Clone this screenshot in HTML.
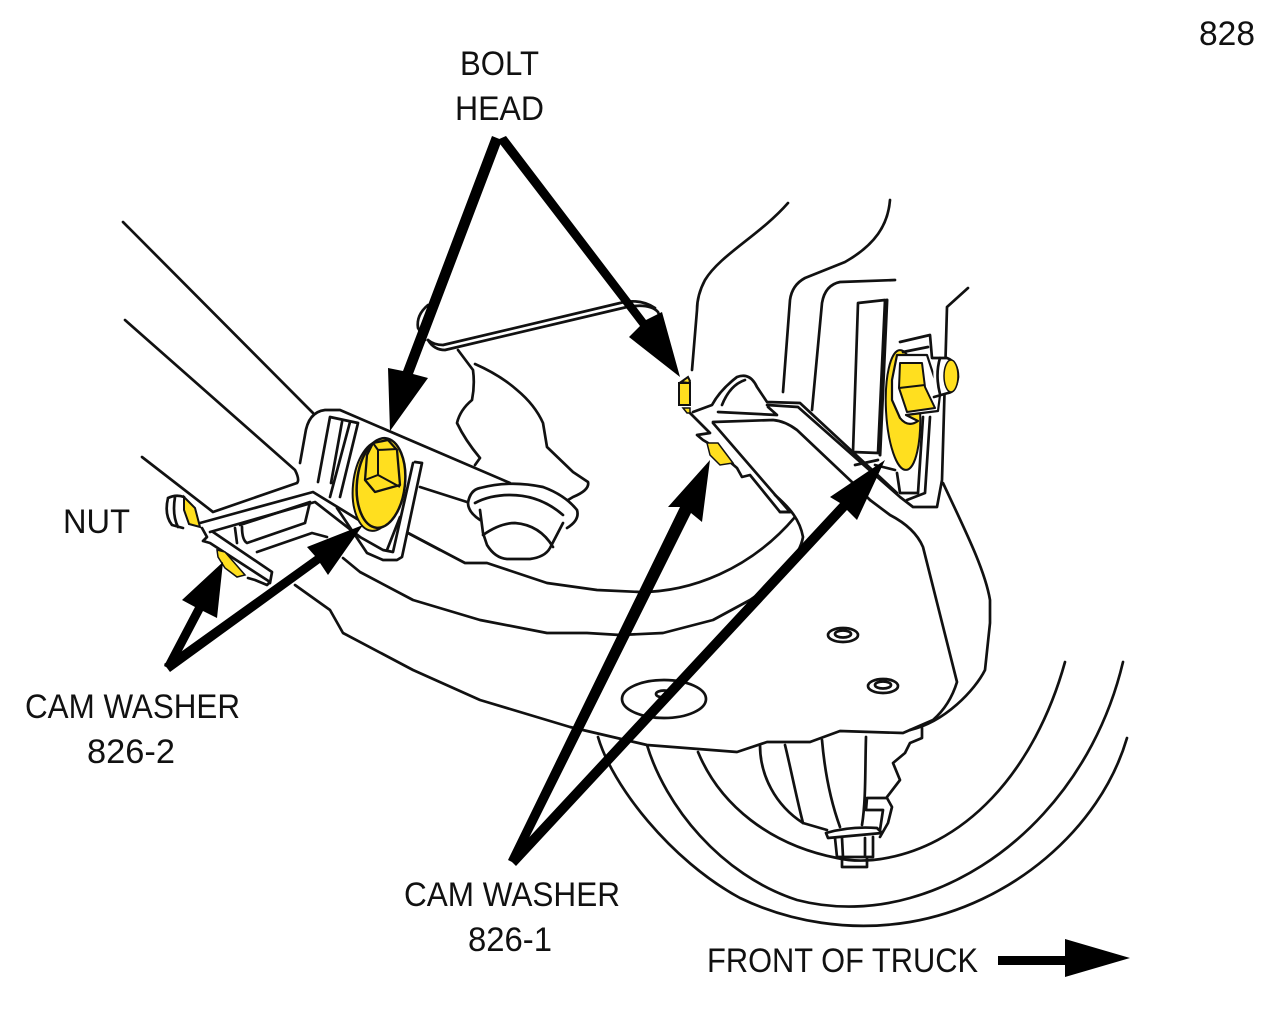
<!DOCTYPE html>
<html><head><meta charset="utf-8"><style>
html,body{margin:0;padding:0;background:#fff}
svg{display:block}
.l{fill:none;stroke:#111;stroke-width:2.7;stroke-linecap:round;stroke-linejoin:round}
.t{font-family:"Liberation Sans",sans-serif;font-size:34px;fill:#111}
.a{fill:#000;stroke:none}
</style></head><body>
<svg width="1275" height="1025" viewBox="0 0 1275 1025" xmlns="http://www.w3.org/2000/svg">
<rect width="1275" height="1025" fill="#fff"/>
<!-- tires -->
<g class="l">
<path d="M598,737C612,785 670,860 740,898C790,922 850,932 910,922C1010,905 1100,830 1127,738"/>
<path d="M647,745C665,805 720,875 797,900C835,910 875,908 910,898C1010,870 1095,780 1123,662"/>
<path d="M698,752C720,805 770,845 837,858C850,861 862,861 873,860C965,850 1035,770 1065,662"/>
<!-- hub -->
<path d="M760,745C760,775 775,805 803,823L827,830"/>
<path d="M785,745C790,765 797,800 803,823"/>
<path d="M822,740C825,775 832,805 840,827"/>
<path d="M866,737C865,770 866,800 862,825"/>
<path d="M922,728L922,738L910,743L905,753L893,763L900,780L887,797"/>
<path d="M867,798H887L892,807L888,823L880,837M867,798L866,810H883L880,830"/>
<path d="M826,833Q850,826 877,828L882,833L828,838Z"/>
<path d="M835,838L837,857H873L873,837M842,838L843,857M865,838L865,857M842,858L842,867H867L867,858"/>
</g>
<!-- main control arm body -->
<path d="M295,585L330,610L343,633L413,670L480,700L570,727L647,745L737,752L767,742L810,742L840,731L903,733L933,720Q950,705 957,682L923,547Q915,528 890,515L870,500L800,420L780,405L700,420L300,480Z" fill="#fff"/>
<g class="l">
<path d="M295,585L330,610L343,633L413,670L480,700L570,727L647,745L737,752L767,742L810,742L840,731L903,733L933,720Q950,705 957,682L923,547Q915,528 890,515L870,500"/>
<path d="M943,483C965,530 985,570 990,600L990,623L985,670C975,690 945,722 910,730"/>
<path d="M343,558L360,572L413,600L480,620L547,633L587,633L620,635L663,633L713,620L750,600C780,580 800,555 803,537C800,520 790,508 775,495"/>
<path d="M408,533L465,563L487,563L547,583L597,590L640,592C690,592 750,570 795,517"/>
<path d="M780,512H790"/>
<!-- holes -->
<ellipse cx="843" cy="635" rx="15" ry="7"/><ellipse cx="843" cy="634" rx="8" ry="3.5"/>
<ellipse cx="883" cy="686" rx="15" ry="7"/><ellipse cx="883" cy="685" rx="8" ry="3.5"/>
<ellipse cx="664" cy="699" rx="42" ry="19"/><ellipse cx="664" cy="694" rx="8" ry="3.5"/>
<!-- upper long lines -->
<path d="M123,222L313,413"/>
<path d="M125,320L295,470Q300,480 297,483L213,512L142,457"/>
<path d="M300,463L305,435Q308,412 325,410L340,410L510,483"/>
<path d="M420,487L467,502"/>
<path d="M440,550L408,533"/>
<!-- rod -->
<path d="M428,340Q434,350 445,350L627,307Q650,303 658,312Q662,320 655,325"/>
<path d="M428,340Q434,345 443,345L620,303Q640,298 655,308"/>
<path d="M428,305Q416,315 418,328L425,340"/>
<!-- central shape -->
<path d="M458,350L473,370Q475,385 472,400Q460,410 457,423Q465,440 480,458L475,465"/>
<path d="M475,364Q500,375 517,390Q535,405 543,423L547,447L573,472L588,482Q590,490 573,497L568,500"/>
<!-- boot -->
<path d="M468,503Q470,490 480,488Q510,480 543,487Q565,495 577,510Q580,520 567,528M468,503Q468,512 480,520"/>
<path d="M475,503Q490,495 510,495Q540,495 563,515"/>
<path d="M480,510L483,533L487,545Q495,558 507,559H530Q545,557 550,548L563,523"/>
<path d="M483,535Q500,523 515,523Q540,525 553,547"/>
<!-- left bracket -->
<path d="M330,417L318,482M342,422L331,483M358,423L340,497M350,422L330,497M330,417L358,423"/>
<path d="M200,523L313,492L362,522"/>
<path d="M210,532L315,502L360,537"/>
<path d="M240,525L310,502L305,523L247,543Q242,540 242,527"/>
<path d="M257,552L312,533L327,537"/>
<path d="M337,508L367,553L383,560L397,560L402,557L422,463L415,462"/>
<path d="M413,463L393,552L383,550L360,537"/>
<path d="M400,517L387,550"/>
<path d="M202,528L207,537L203,541L210,543L270,582L267,585L255,580L248,578"/>
<path d="M213,532L272,572L270,583M235,528L237,543"/>
<path d="M168,498Q164,515 172,525L183,528M175,497Q172,515 178,527M168,498Q176,494 184,497"/>
</g>
<!-- left nut -->
<path d="M184,497L195,508L200,527L189,524L184,510Z" fill="#ffdf1f" stroke="#111" stroke-width="2"/>
<!-- left washer -->
<ellipse cx="376" cy="486" rx="23" ry="45" transform="rotate(6 376 486)" fill="#ffdf1f" stroke="#111" stroke-width="2"/>
<ellipse cx="381" cy="483" rx="24" ry="45" transform="rotate(6 381 483)" fill="#ffdf1f" stroke="#111" stroke-width="2.5"/>
<path d="M365,480L367,455L373,443L388,440L397,450L400,485L375,492Z" fill="#ffdf1f" stroke="#111" stroke-width="2.3" stroke-linejoin="round"/>
<path d="M365,480L378,475L400,487M378,475V450L397,449M373,443L378,450M375,492L365,480" fill="none" stroke="#111" stroke-width="2"/>
<path d="M217,550L225,552L245,575L237,577L225,568L218,557Z" fill="#ffdf1f" stroke="#111" stroke-width="1.5"/>
<!-- right assembly -->
<g class="l">
<path d="M788,203C760,235 720,255 705,280Q697,295 697,310L692,370"/>
<path d="M890,200C888,225 875,245 845,262L805,278Q792,285 790,300L783,392"/>
<path d="M812,410L822,303Q825,285 840,282L895,280"/>
<path d="M968,288L947,307L942,480L937,507L913,507L900,497L798,407L767,405"/>
<path d="M693,412L712,405Q720,390 737,377Q750,372 757,387L767,402L800,403L897,493"/>
<path d="M718,412L777,415L768,407M722,405Q730,385 745,380"/>
<path d="M713,422L773,420Q785,421 797,430L853,483L870,500"/>
<path d="M690,413L710,433L697,435L703,440L708,443L737,468L742,477L750,475L780,512H790L713,423"/>
<path d="M858,303L885,300L878,453L853,452Z"/>
<path d="M887,300L880,455" stroke-width="3"/>
<path d="M855,465L878,460M875,465L895,470"/>
<path d="M923,417L918,493H900L897,473M930,417L925,493L907,500"/>
</g>
<ellipse cx="903" cy="410" rx="17" ry="60" transform="rotate(-3 903 410)" fill="#ffdf1f" stroke="#111" stroke-width="2"/>
<path d="M897,355H927L940,395L938,411L906,415L918,421Q908,428 900,418L892,400L892,380Z" fill="#fff" stroke="#111" stroke-width="2.2" stroke-linejoin="round"/>
<g class="l">
<path d="M900,342L930,335L932,358M903,352L928,347"/>
<path d="M933,358H947Q958,362 958,377Q956,392 948,393L934,397" fill="#fff"/>
<path d="M940,358Q935,375 940,394"/>
</g>
<ellipse cx="951" cy="376" rx="7" ry="16" fill="#ffdf1f" stroke="#111" stroke-width="1.5"/>
<path d="M900,363H922L925,387L935,408L907,412L899,388Z" fill="#ffdf1f" stroke="#111" stroke-width="2" stroke-linejoin="round"/>
<path d="M899,388L925,385" stroke="#111" stroke-width="2"/>
<rect x="679" y="383" width="11" height="22" fill="#ffdf1f" stroke="#111" stroke-width="2"/>
<path d="M681,382L688,377L690,381L689,383Z" fill="#ffdf1f" stroke="#111" stroke-width="2"/>
<path d="M683,408L690,408V413H687Z" fill="#ffdf1f" stroke="#111" stroke-width="1.5"/>
<path d="M707,443L718,443L733,463L720,465L710,455Z" fill="#ffdf1f" stroke="#111" stroke-width="1.5"/>
<!-- arrows -->
<g class="a">
<path d="M492,136L502,140L413,374L428,378L390,431L388,368L403,371Z"/>
<path d="M497,140L506,136L646,320L662,312L680,377L629,337L640,326Z"/>
<path d="M164,666L172,670L203,611L217,618L223,562L182,600L195,607Z"/>
<path d="M164,664L170,672L320,563L328,575L363,525L307,547L315,556Z"/>
<path d="M508,860L516,864L691,513L702,522L710,460L668,507L680,507Z"/>
<path d="M509,859L516,866L847,510L857,520L885,460L830,497L840,503Z"/>
<path d="M998,956H1065V939L1130,958L1065,977V965H998Z"/>
</g>
<!-- labels -->
<text class="t" x="1199" y="45" textLength="56" lengthAdjust="spacingAndGlyphs">828</text>
<text class="t" x="460" y="75" textLength="79" lengthAdjust="spacingAndGlyphs">BOLT</text>
<text class="t" x="455" y="120" textLength="89" lengthAdjust="spacingAndGlyphs">HEAD</text>
<text class="t" x="63" y="533" textLength="67" lengthAdjust="spacingAndGlyphs">NUT</text>
<text class="t" x="25" y="718" textLength="215" lengthAdjust="spacingAndGlyphs">CAM WASHER</text>
<text class="t" x="87" y="763" textLength="88" lengthAdjust="spacingAndGlyphs">826-2</text>
<text class="t" x="404" y="906" textLength="216" lengthAdjust="spacingAndGlyphs">CAM WASHER</text>
<text class="t" x="468" y="951" textLength="84" lengthAdjust="spacingAndGlyphs">826-1</text>
<text class="t" x="707" y="972" textLength="271" lengthAdjust="spacingAndGlyphs">FRONT OF TRUCK</text>
</svg>
</body></html>
